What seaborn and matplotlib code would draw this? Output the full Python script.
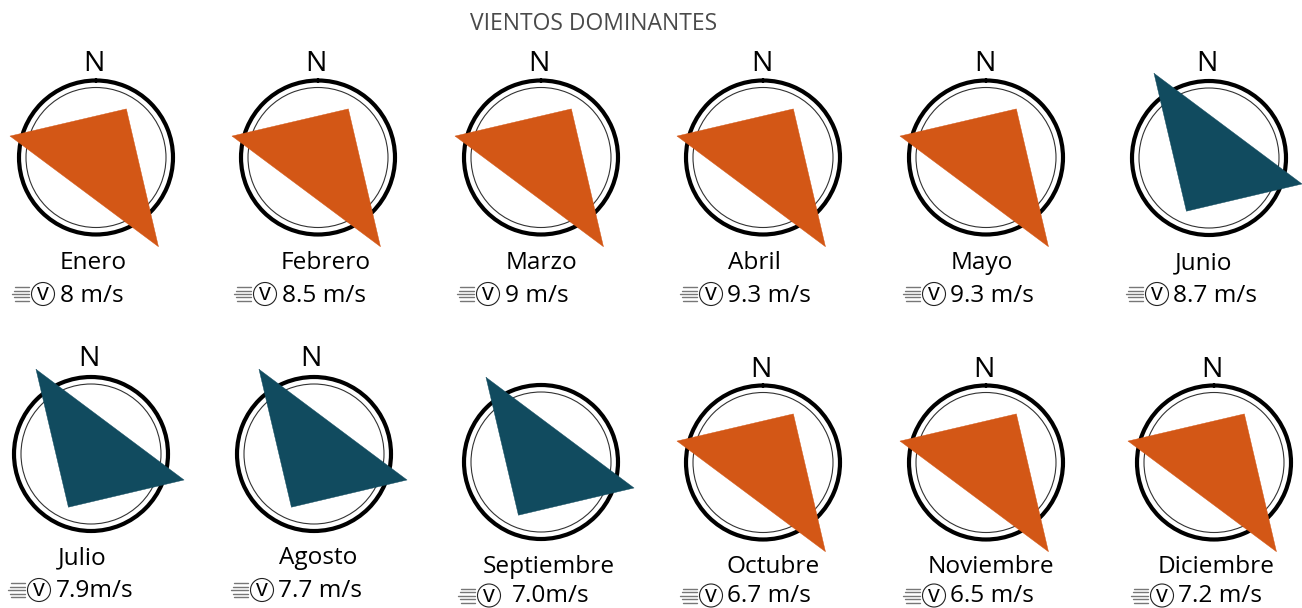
import numpy as np
import pandas as pd
import matplotlib.pyplot as plt
from matplotlib.lines import Line2D
import seaborn as sns

sns.set_theme(style="white")
plt.rcParams['font.family'] = ['Open Sans', 'DejaVu Sans']

W, H = 1302, 608

months = ['Enero', 'Febrero', 'Marzo', 'Abril', 'Mayo', 'Junio',
          'Julio', 'Agosto', 'Septiembre', 'Octubre', 'Noviembre', 'Diciembre']
speeds = ['8 m/s', '8.5 m/s', '9 m/s', '9.3 m/s', '9.3 m/s', '8.7 m/s',
          '7.9m/s', '7.7 m/s', '7.0m/s', '6.7 m/s', '6.5 m/s', '7.2 m/s']
season = ['a', 'a', 'a', 'a', 'a', 'b', 'b', 'b', 'b', 'a', 'a', 'a']

# triangle corners: bearing from north (deg) and length
bearing_a = [284, 32, 145]
length_a = [88.6, 57.3, 108.9]
bearing_b = [327, 105.6, 203]
length_b = [101, 96.6, 57.8]

colors = {'a': '#D35716', 'b': '#114B5F'}
shapes = {'a': (bearing_a, length_a), 'b': (bearing_b, length_b)}

# layout in pixels of the reference, text y values are baselines
centers = [(96, 157.5), (318, 157.5), (541, 157.5), (763, 157.5), (986, 157.5), (1209, 158),
           (91, 454), (314, 454), (541, 462), (763, 462.5), (986, 462.5), (1214, 462.5)]
north_pos = [(94, 71), (316, 71), (539, 71), (762, 71), (985, 71), (1207, 71),
             (89, 366), (311, 366), None, (761, 377), (984, 377), (1212, 377)]
month_pos = [(93, 269), (326, 269), (541, 269), (754, 269), (982, 269), (1204, 269),
             (82, 564), (318, 564), (549, 573), (773, 573), (991, 573), (1216, 573)]
speed_pos = [(60, 302), (282, 302), (505, 302), (727, 302), (950, 302), (1173, 302),
             (56, 597), (278, 597), (512, 602), (727, 602), (950, 602), (1178, 602)]
icon_pos = [(43, 294), (265, 294), (488, 294), (711, 294), (934, 294), (1157, 294),
            (39, 590), (262, 590), (489, 595.5), (711, 595.5), (934, 595.5), (1162, 595.5)]

R_OUT = 77
R_IN = 70


def fx(x):
    return x / W


def fy(y):
    return 1 - y / H


fig = plt.figure(figsize=(W / 100, H / 100), dpi=100, facecolor='white')

fig.text(fx(594), fy(30), 'VIENTOS DOMINANTES', color='#4a4a4a', fontsize=16.5,
         ha='center', va='baseline')

for i, month in enumerate(months):
    cx, cy = centers[i]
    rect = [fx(cx - R_OUT), fy(cy + R_OUT), 2 * R_OUT / W, 2 * R_OUT / H]
    ax = fig.add_axes(rect, projection='polar')
    ax.set_theta_zero_location('N')
    ax.set_theta_direction(-1)
    ax.patch.set_alpha(0)

    bearing, length = shapes[season[i]]
    tri = pd.DataFrame({'theta': np.radians(bearing + bearing[:1]), 'r': length + length[:1]})
    ax.fill(tri['theta'], tri['r'], color=colors[season[i]], lw=0, clip_on=False, zorder=4)
    sns.lineplot(data=tri, x='theta', y='r', sort=False, estimator=None, color=colors[season[i]],
                 lw=0.3, ax=ax, clip_on=False, zorder=4)

    ax.set_ylim(0, R_OUT)
    ax.set_xticks([])
    ax.set_yticks([R_IN])
    ax.set_yticklabels([])
    ax.tick_params(length=0)
    ax.grid(True, axis='y', color='#333333', lw=0.8, solid_capstyle='butt', solid_joinstyle='round')
    ax.set_xlabel('')
    ax.set_ylabel('')
    ax.spines['polar'].set_linewidth(3)
    ax.spines['polar'].set_color('black')
    ax.spines['polar'].set_capstyle('round')
    ax.spines['polar'].set_joinstyle('round')

    if north_pos[i] is not None:
        fig.text(fx(north_pos[i][0]), fy(north_pos[i][1]), 'N', color='black', fontsize=20.5,
                 ha='center', va='baseline')
    fig.text(fx(month_pos[i][0]), fy(month_pos[i][1]), month, color='black', fontsize=17.6,
             ha='center', va='baseline')
    fig.text(fx(speed_pos[i][0]), fy(speed_pos[i][1]), speeds[i], color='black', fontsize=17.6,
             ha='left', va='baseline')

    # wind icon: streaks and circled v
    ix, iy = icon_pos[i]
    fig.text(fx(ix), fy(iy + 6), 'v', color='black', fontsize=17, ha='center', va='baseline', zorder=6)
    fig.add_artist(plt.Circle((ix, H - iy), 11.5, transform=None, fill=False, ec='#222222', lw=0.8))
    for off in [-7, -3.5, 0, 3.5, 7]:
        fig.add_artist(Line2D([fx(ix - 31 + abs(off) / 3.5 * 1.5), fx(ix - 14)], [fy(iy + off)] * 2,
                              color='#777777', lw=1.0))

fig.savefig('out.png', dpi=100)
